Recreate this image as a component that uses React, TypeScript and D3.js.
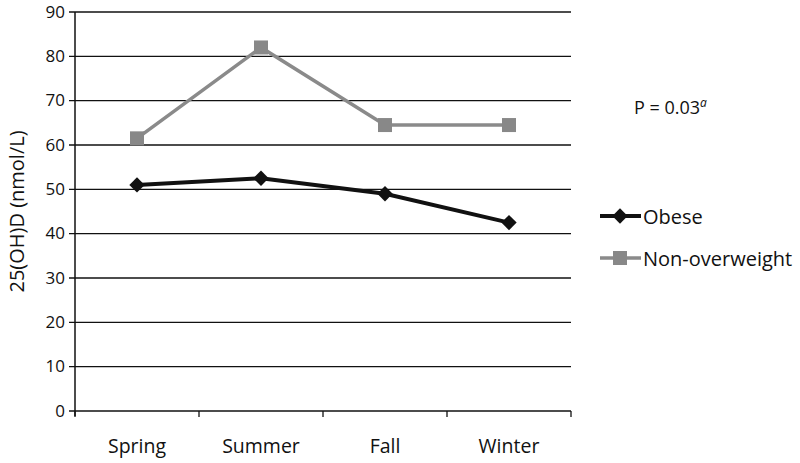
import React, { useEffect, useRef } from "react";
import * as d3 from "d3";

const seasons = ["Spring", "Summer", "Fall", "Winter"];
const obese = [51, 52.5, 49, 42.5];
const nonOverweight = [61.5, 82, 64.5, 64.5];
const yTicks = [0, 10, 20, 30, 40, 50, 60, 70, 80, 90];

const App = () => {
    const ref = useRef<SVGSVGElement>(null);

    useEffect(() => {
        const width = 800;
        const height = 463;
        const left = 75, right = 571, top = 12, bottom = 411;
        const font = "'Open Sans', sans-serif";

        const svg = d3.select(ref.current);
        svg.selectAll("*").remove();

        const x = d3.scaleBand().domain(seasons).range([left, right]);
        const y = d3.scaleLinear().domain([0, 90]).range([bottom, top]);

        // gridlines + y ticks
        svg.append("g")
            .selectAll("line")
            .data(yTicks)
            .enter()
            .append("line")
            .attr("x1", left - 6)
            .attr("x2", right)
            .attr("y1", d => y(d))
            .attr("y2", d => y(d))
            .attr("stroke", "#111")
            .attr("stroke-width", 1.3);

        svg.append("g")
            .selectAll("text")
            .data(yTicks)
            .enter()
            .append("text")
            .attr("x", left - 10)
            .attr("y", d => y(d))
            .attr("dy", "0.33em")
            .attr("text-anchor", "end")
            .style("font-family", font)
            .style("font-size", "17px")
            .attr("fill", "#111")
            .text(d => d);

        // y axis line
        svg.append("line")
            .attr("x1", left).attr("x2", left)
            .attr("y1", top).attr("y2", bottom + 5)
            .attr("stroke", "#111").attr("stroke-width", 1.5);

        // x ticks
        const xTickPos = seasons.map(s => x(s)!).concat([right]);
        svg.append("g")
            .selectAll("line")
            .data(xTickPos)
            .enter()
            .append("line")
            .attr("x1", d => d).attr("x2", d => d)
            .attr("y1", bottom).attr("y2", bottom + 6)
            .attr("stroke", "#111").attr("stroke-width", 1.3);

        svg.append("g")
            .selectAll("text")
            .data(seasons)
            .enter()
            .append("text")
            .attr("x", d => x(d)! + x.bandwidth() / 2)
            .attr("y", 453)
            .attr("text-anchor", "middle")
            .style("font-family", font)
            .style("font-size", "19.5px")
            .attr("fill", "#111")
            .text(d => d);

        // axis title
        svg.append("text")
            .attr("transform", `translate(24,${(top + bottom) / 2}) rotate(-90)`)
            .attr("text-anchor", "middle")
            .style("font-family", font)
            .style("font-size", "20px")
            .attr("fill", "#111")
            .text("25(OH)D (nmol/L)");

        const cx = (i: number) => x(seasons[i])! + x.bandwidth() / 2;
        const line = d3.line<number>().x((d, i) => cx(i)).y(d => y(d));

        // non-overweight series
        svg.append("path")
            .datum(nonOverweight)
            .attr("d", line)
            .attr("fill", "none")
            .attr("stroke", "#8a8a8a")
            .attr("stroke-width", 3.5);
        svg.append("g")
            .selectAll("rect")
            .data(nonOverweight)
            .enter()
            .append("rect")
            .attr("x", (d, i) => cx(i) - 7)
            .attr("y", d => y(d) - 7)
            .attr("width", 14)
            .attr("height", 14)
            .attr("fill", "#888");

        // obese series
        const diamond = d3.symbol().type(d3.symbolDiamond2).size(150);
        svg.append("path")
            .datum(obese)
            .attr("d", line)
            .attr("fill", "none")
            .attr("stroke", "#111")
            .attr("stroke-width", 4);
        svg.append("g")
            .selectAll("path")
            .data(obese)
            .enter()
            .append("path")
            .attr("d", diamond)
            .attr("transform", (d, i) => `translate(${cx(i)},${y(d)})`)
            .attr("fill", "#111");

        // legend
        const legend = [
            { name: "Obese", color: "#111", w: 4, y: 216, marker: "diamond" },
            { name: "Non-overweight", color: "#8a8a8a", w: 3.5, y: 258, marker: "square" }
        ];
        legend.forEach(l => {
            svg.append("line")
                .attr("x1", 600).attr("x2", 641)
                .attr("y1", l.y).attr("y2", l.y)
                .attr("stroke", l.color).attr("stroke-width", l.w);
            if (l.marker === "diamond") {
                svg.append("path")
                    .attr("d", diamond)
                    .attr("transform", `translate(620,${l.y})`)
                    .attr("fill", l.color);
            } else {
                svg.append("rect")
                    .attr("x", 613).attr("y", l.y - 7)
                    .attr("width", 14).attr("height", 14)
                    .attr("fill", "#888");
            }
            svg.append("text")
                .attr("x", 643)
                .attr("y", l.y + 1)
                .attr("dy", "0.35em")
                .style("font-family", font)
                .style("font-size", "20px")
                .attr("fill", "#111")
                .text(l.name);
        });

        // p value
        const p = svg.append("text")
            .attr("x", 634)
            .attr("y", 114)
            .style("font-family", font)
            .style("font-size", "18px")
            .attr("fill", "#111");
        p.append("tspan").text("P = 0.03");
        p.append("tspan")
            .attr("dy", -7)
            .style("font-size", "12px")
            .style("font-style", "italic")
            .text("a");

        svg.attr("width", width).attr("height", height);
    }, []);

    return (
        <svg ref={ref} width={800} height={463} style={{ position: "absolute", left: 0, top: 0, background: "#fff" }}></svg>
    );
};

export default App;
